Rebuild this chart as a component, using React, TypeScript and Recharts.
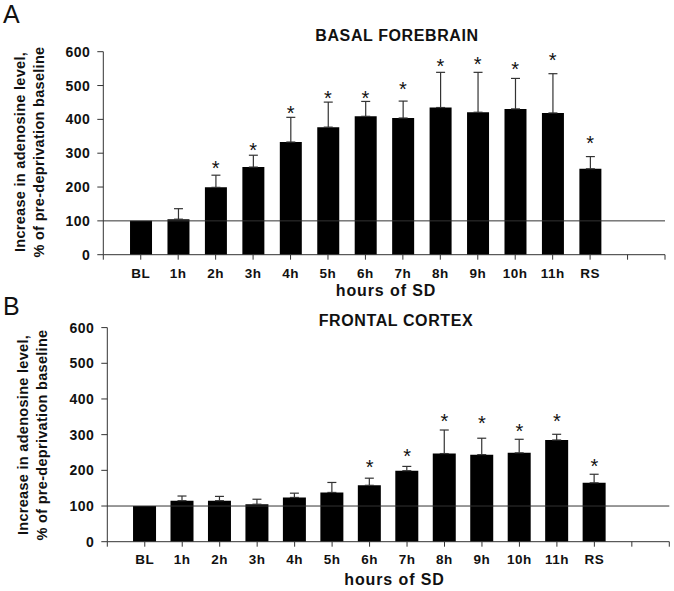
import React from 'react';
import { ComposedChart, Bar, ErrorBar, XAxis, YAxis, ReferenceLine, Scatter, Customized } from 'recharts';

const categories = ['BL', '1h', '2h', '3h', '4h', '5h', '6h', '7h', '8h', '9h', '10h', '11h', 'RS'];
const yTicks = [0, 100, 200, 300, 400, 500, 600];

// Panel A: basal forebrain
const bfMean = [100, 105, 199, 259, 333, 377, 409, 404, 435, 421, 431, 419, 254];
const bfSem = [null, 31, 36, 35, 73, 74, 44, 50, 104, 118, 90, 116, 36];
const bfStar = [null, null, 270, 324, 433, 477, 477, 504, 570, 578, 561, 590, 344];

// Panel B: frontal cortex
const fcMean = [100, 115, 115, 105, 124, 138, 158, 199, 247, 244, 249, 285, 165];
const fcSem = [null, 13, 12, 14, 12, 28, 20, 12, 66, 46, 38, 16, 24];
const fcStar = [null, null, null, null, null, null, 221, 254, 352, 345, 324, 351, 224];

const FONT = 'Liberation Sans, Arial, Helvetica, sans-serif';
const xTicks = Array.from({ length: 16 }, (_, i) => i);
const tickLabel = (v: number) => (v >= 1 && v <= categories.length ? categories[v - 1] : '');

const build = (mean: (number)[], sem: (number | null)[]) =>
  categories.map((c, i) => ({ pos: i + 1, name: c, mean: mean[i], err: sem[i] == null ? null : [0, sem[i]] }));
const buildStars = (stars: (number | null)[]) =>
  categories.map((c, i) => ({ pos: i + 1, star: stars[i] })).filter((d) => d.star != null);

const Star = (props: any) => {
  const { cx, cy } = props;
  return (
    <text x={cx} y={cy + 11.5} textAnchor="middle" fontSize={20} fontFamily={FONT} fill="#111">
      *
    </text>
  );
};

interface PanelProps {
  top: number;
  height: number;
  margin: { top: number; right: number; bottom: number; left: number };
  mean: number[];
  sem: (number | null)[];
  stars: (number | null)[];
  letter: string;
  letterY: number;
  title: string;
  titleY: number;
  titleX: number;
  xTitleY: number;
  xTitleX: number;
  yLabelCenter: number;
  yLabelX1: number;
  yLabelX2: number;
  barSize: number;
  tickMargin: number;
}

const Panel = (p: PanelProps) => {
  const data = build(p.mean, p.sem);
  const starData = buildStars(p.stars);
  const Texts = () => (
    <g fontFamily={FONT}>
      <text x={3} y={p.letterY} fontSize={25} fill="#111">{p.letter}</text>
      <text x={p.titleX} y={p.titleY} fontSize={16} fontWeight="bold" textAnchor="middle" fill="#111" letterSpacing={0.6}>
        {p.title}
      </text>
      <text x={p.xTitleX} y={p.xTitleY} fontSize={16} fontWeight="bold" textAnchor="middle" fill="#111" letterSpacing={0.9}>
        hours of SD
      </text>
      <text
        x={p.yLabelX1}
        y={p.yLabelCenter}
        transform={`rotate(-90 ${p.yLabelX1} ${p.yLabelCenter})`}
        fontSize={14.5}
        fontWeight="bold"
        textAnchor="middle"
        fill="#111"
        letterSpacing={0.3}
      >
        Increase in adenosine level,
      </text>
      <text
        x={p.yLabelX2}
        y={p.yLabelCenter}
        transform={`rotate(-90 ${p.yLabelX2} ${p.yLabelCenter})`}
        fontSize={14.5}
        fontWeight="bold"
        textAnchor="middle"
        fill="#111"
        letterSpacing={0.3}
      >
        % of pre-deprivation baseline
      </text>
    </g>
  );
  return (
    <div style={{ position: 'absolute', left: 0, top: p.top }}>
      <ComposedChart width={674} height={p.height} data={data} margin={p.margin}>
        <XAxis
          dataKey="pos"
          type="number"
          domain={[0, 15]}
          ticks={xTicks}
          interval={0}
          tickFormatter={tickLabel}
          height={30}
          tickSize={5}
          tickMargin={p.tickMargin}
          stroke="#333"
          tick={{ fontSize: 13.5, fontWeight: 'bold', fill: '#111', fontFamily: FONT, letterSpacing: 0.5 }}
          allowDataOverflow
        />
        <YAxis
          type="number"
          domain={[0, 600]}
          ticks={yTicks}
          interval={0}
          width={60}
          tickSize={6}
          tickMargin={7}
          stroke="#333"
          tick={{ fontSize: 14, fontWeight: 'bold', fill: '#111', fontFamily: FONT, letterSpacing: 0.5 }}
        />
        <ReferenceLine y={100} stroke="#333" strokeWidth={1} />
        <Bar dataKey="mean" fill="#000" barSize={p.barSize} isAnimationActive={false}>
          <ErrorBar dataKey="err" width={4.5} stroke="#333" strokeWidth={1.2} direction="y" />
        </Bar>
        <Scatter data={starData} dataKey="star" shape={<Star />} isAnimationActive={false} />
        <Customized component={<Texts />} />
      </ComposedChart>
    </div>
  );
}

export default function App() {
  return (
    <div style={{ position: 'absolute', left: 0, top: 0, width: 674, height: 591, background: '#fff' }}>
      <Panel
        top={0}
        height={300}
        margin={{ top: 51.7, right: 9, bottom: 15.3, left: 43.3 }}
        mean={bfMean}
        sem={bfSem}
        stars={bfStar}
        letter="A"
        letterY={23}
        title="BASAL FOREBRAIN"
        titleX={397}
        titleY={40.5}
        xTitleX={386}
        xTitleY={296}
        yLabelCenter={152}
        yLabelX1={25}
        yLabelX2={44}
        barSize={22}
        tickMargin={8.5}
      />
      <Panel
        top={290}
        height={301}
        margin={{ top: 37.6, right: 4.7, bottom: 19.3, left: 47.3 }}
        mean={fcMean}
        sem={fcSem}
        stars={fcStar}
        letter="B"
        letterY={25}
        title="FRONTAL CORTEX"
        titleX={396}
        titleY={36}
        xTitleX={394.5}
        xTitleY={294.5}
        yLabelCenter={145}
        yLabelX1={28}
        yLabelX2={47}
        barSize={23}
        tickMargin={7.5}
      />
    </div>
  );
}
